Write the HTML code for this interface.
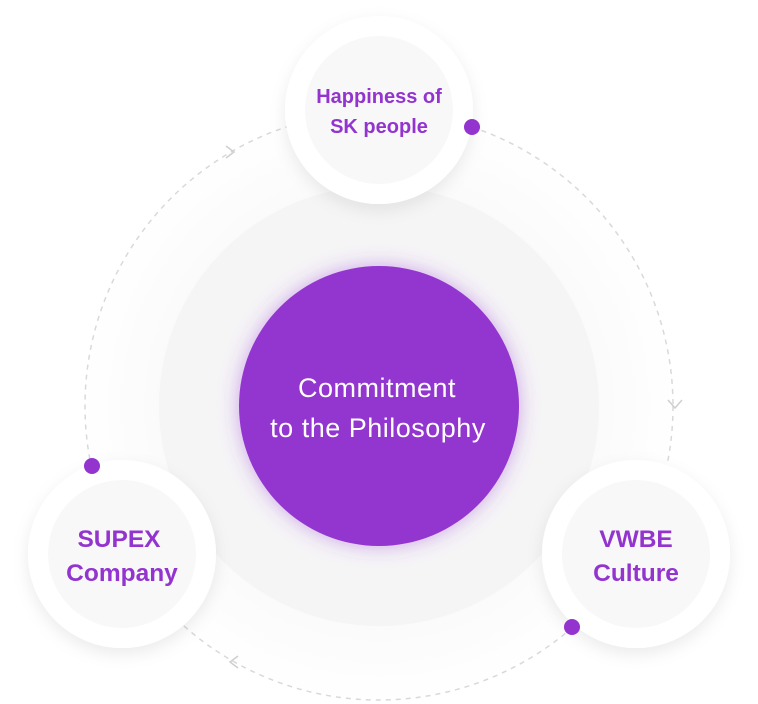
<!DOCTYPE html>
<html><head><style>
html,body{margin:0;padding:0;background:#fff;}
body{width:758px;height:704px;overflow:hidden;position:relative;font-family:"Liberation Sans",sans-serif;}
</style></head><body>
<svg width="758" height="704" viewBox="0 0 758 704" style="position:absolute;left:0;top:0">
<defs>
<filter id="sh" x="-30%" y="-30%" width="160%" height="160%"><feDropShadow dx="0" dy="6" stdDeviation="8" flood-color="#000" flood-opacity="0.08"/></filter>
<filter id="gl" x="-30%" y="-30%" width="160%" height="160%"><feDropShadow dx="0" dy="0" stdDeviation="10" flood-color="#9b3fd6" flood-opacity="0.45"/></filter>
<radialGradient id="bg" cx="50%" cy="50%" r="50%"><stop offset="0.7" stop-color="#fafafa"/><stop offset="1" stop-color="#fff"/></radialGradient>
</defs>
<circle cx="379" cy="406" r="300" fill="url(#bg)"/>
<circle cx="379" cy="406" r="220" fill="#f5f5f6"/>
<circle cx="379" cy="406" r="294" fill="none" stroke="#d9d9dc" stroke-width="1.5" stroke-dasharray="5 5"/>
<polyline points="668,400 675,408 682,400" fill="none" stroke="#cfcfd3" stroke-width="1.5"/>
<polyline points="226,146 234,152 226,158" fill="none" stroke="#cfcfd3" stroke-width="1.5"/>
<polyline points="238,656 230,662 238,668" fill="none" stroke="#cfcfd3" stroke-width="1.5"/>
<circle cx="379" cy="406" r="140" fill="#9334cf" filter="url(#gl)"/>
<text x="377" y="397" text-anchor="middle" fill="#fff" font-size="27" font-family="Liberation Sans,sans-serif" letter-spacing="0.5">Commitment</text>
<text x="378" y="437" text-anchor="middle" fill="#fff" font-size="27" font-family="Liberation Sans,sans-serif" letter-spacing="0.5">to the Philosophy</text>
<g font-family="Liberation Sans,sans-serif" font-weight="bold" fill="#9334cf" text-anchor="middle">
<circle cx="379" cy="110" r="94" fill="#fff" filter="url(#sh)"/>
<circle cx="379" cy="110" r="74" fill="#f8f8f9"/>
<text x="379" y="103" font-size="20">Happiness of</text>
<text x="379" y="133" font-size="20">SK people</text>
<circle cx="636" cy="554" r="94" fill="#fff" filter="url(#sh)"/>
<circle cx="636" cy="554" r="74" fill="#f8f8f9"/>
<text x="636" y="547" font-size="24.5">VWBE</text>
<text x="636" y="581" font-size="24.5">Culture</text>
<circle cx="122" cy="554" r="94" fill="#fff" filter="url(#sh)"/>
<circle cx="122" cy="554" r="74" fill="#f8f8f9"/>
<text x="119" y="547" font-size="24.5">SUPEX</text>
<text x="122" y="581" font-size="24.5">Company</text>
</g>
<circle cx="472" cy="127" r="8" fill="#9334cf"/>
<circle cx="572" cy="627" r="8" fill="#9334cf"/>
<circle cx="92" cy="466" r="8" fill="#9334cf"/>
</svg>
</body></html>
